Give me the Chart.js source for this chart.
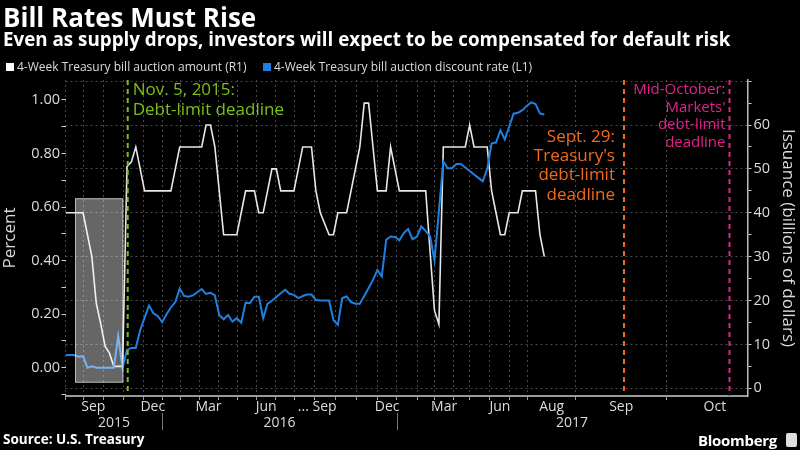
<!DOCTYPE html>
<html>
<head>
<meta charset="utf-8">
<script src="https://cdn.jsdelivr.net/npm/chart.js@4.4.1/dist/chart.umd.min.js"></script>
<style>
  html, body { margin: 0; padding: 0; background: #000; }
  #wrap { position: relative; width: 800px; height: 450px; overflow: hidden; background: #000;
          font-family: "Open Sans", sans-serif; }
  #c { position: absolute; left: 0; top: 0; }
  .t { position: absolute; white-space: nowrap; color: #fff; line-height: 1; }
  #title { left: 3px; top: 4px; font-size: 26px; font-weight: 700; }
  #sub { left: 3px; top: 30px; font-size: 18.8px; font-weight: 700; }
  .leg { top: 61px; font-size: 12px; color: #dcdcdc; }
  .sw { display: inline-block; width: 8px; height: 8px; margin-right: 3px; vertical-align: 0px; }
  #source { left: 3px; top: 433px; font-size: 13.5px; font-weight: 700; }
  #bbg { left: 698px; top: 433px; font-size: 15px; font-weight: 700; letter-spacing: -0.3px; }
  #icon { position: absolute; left: 786px; top: 433px; width: 11px; height: 14px; background: #ddd; border-radius: 2px; }
</style>
</head>
<body>
<div id="wrap">
  <canvas id="c" width="800" height="450"></canvas>
  <div class="t" id="title">Bill Rates Must Rise</div>
  <div class="t" id="sub">Even as supply drops, investors will expect to be compensated for default risk</div>
  <div class="t leg" style="left:6px"><span class="sw" style="background:#ffffff"></span>4-Week Treasury bill auction amount (R1)</div>
  <div class="t leg" style="left:263px"><span class="sw" style="background:#1f80e0"></span>4-Week Treasury bill auction discount rate (L1)</div>
  <div class="t" id="source">Source: U.S. Treasury</div>
  <div class="t" id="bbg">Bloomberg</div>
  <div id="icon"></div>
</div>
<script>
// ---------------- DATA ----------------
// Weekly 4-week bill auctions, Aug 2015 - Aug 2017 (observation index on the x axis)
const billAmount = [ // billions of dollars (R1)
  40,40,40,40,40, 35,30,19.4,14.8,9.6,8,5,5,5, 50.5,51.6,55,50,
  45,45,45,45,45,45,45, 50, 55,55,55,55,55,55, 60,60, 55,45,
  35,35,35,35, 40, 45,45,45, 40,40, 45,50,50,45, 45,45,45, 50,
  55,55,55, 45,40,37.5,35,35, 40,40,40, 45,50,55,65,65,55,
  45,45,45, 55,50, 45,45,45,45,45,45,45, 31,17.7,14.6,
  55,55,55,55,55,55, 60, 55,55,55,55, 45,40,35,35, 40,40,40,
  45,45,45,45, 35,30
];
const discountRate = [ // percent (L1)
  0.047,0.047,0.047,0.041,0.043,0.0,0.005,0.0,0.0,0.0,
  0.0,0.0,0.118,0.0,0.066,0.074,0.074,0.14,0.186,0.232,
  0.203,0.193,0.17,0.2,0.225,0.245,0.295,0.268,0.265,0.27,
  0.282,0.294,0.276,0.28,0.27,0.197,0.181,0.197,0.172,0.185,
  0.168,0.243,0.241,0.265,0.265,0.185,0.239,0.25,0.264,0.278,
  0.291,0.276,0.272,0.26,0.268,0.273,0.273,0.253,0.251,0.251,
  0.251,0.178,0.16,0.26,0.266,0.245,0.239,0.239,0.268,0.298,
  0.328,0.365,0.341,0.478,0.49,0.488,0.476,0.503,0.518,0.48,
  0.49,0.528,0.51,0.49,0.4,0.585,0.77,0.745,0.745,0.761,
  0.761,0.748,0.735,0.722,0.709,0.696,0.743,0.838,0.841,0.887,
  0.853,0.9,0.949,0.952,0.962,0.978,0.991,0.985,0.95,0.946
];
// Month boundaries on the x axis (in observation units) and the label of each month interval
const monthTicks = [0, 4.05, 8.60, 13.16, 17.71, 22.03, 26.29, 30.39, 34.72, 39.20, 43.52, 47.85,
  52.24, 56.57, 61.35, 66.29, 71.07, 75.39, 80.08, 84.11, 88.28, 92.08, 96.63, 101.18, 105.21,
  116.14, 136.85, 158.8];
const monthLabels = ['', 'Sep', '', '', 'Dec', '', '', 'Mar', '', '', 'Jun', '', '', '... Sep', '', '',
  'Dec', '', '', 'Mar', '', '', 'Jun', '', 'Aug', 'Sep', 'Oct'];
const yearLabels = ['2015', '2016', '2017'];
const yearStarts = [0, 22.03, 75.39];
const xMax = 155.25;
const leftTicks = [-0.1, 0, 0.1, 0.2, 0.3, 0.4, 0.5, 0.6, 0.7, 0.8, 0.9, 1.0];
const rightTicks = [0, 5, 10, 15, 20, 25, 30, 35, 40, 45, 50, 55, 60, 65, 70];
// Event markers
const deadlines = [
  { at: 14.16, color: '#7dbf1a', side: 'right', size: 17, lineGap: 19.3, firstY: 90.5,
    lines: ['Nov. 5, 2015:', 'Debt-limit deadline'] },
  { at: 127.13, color: '#f26a1b', side: 'left', size: 17, lineGap: 19.3, firstY: 137,
    lines: ['Sept. 29:', "Treasury's", 'debt-limit', 'deadline'] },
  { at: 151.15, color: '#e0238c', side: 'left', size: 15, lineGap: 17.6, firstY: 90,
    lines: ['Mid-October:', "Markets'", 'debt-limit', 'deadline'] }
];
const highlight = { x0: 2.16, x1: 13.16, y0: -0.056, y1: 0.633 };

// ---------------- STYLE ----------------
const TXT = '#dcdcdc';
const GRID = '#4a4a4a';
const FONT = '"Open Sans", sans-serif';
Chart.defaults.font.family = FONT;

const overlay = {
  id: 'overlay',
  afterDatasetsDraw(chart) {
    const { ctx, chartArea: a } = chart;
    const xs = chart.scales.x, yl = chart.scales.y;
    const bx0 = xs.getPixelForValue(highlight.x0), bx1 = xs.getPixelForValue(highlight.x1);
    const by0 = yl.getPixelForValue(highlight.y1), by1 = yl.getPixelForValue(highlight.y0);
    ctx.save();
    ctx.fillStyle = 'rgba(255,255,255,0.40)';
    ctx.fillRect(bx0, by0, bx1 - bx0, by1 - by0);
    ctx.strokeStyle = 'rgba(255,255,255,0.55)';
    ctx.lineWidth = 1;
    ctx.strokeRect(bx0 + 0.5, by0 + 0.5, bx1 - bx0 - 1, by1 - by0 - 1);
    deadlines.forEach(d => {
      const px = xs.getPixelForValue(d.at);
      ctx.strokeStyle = d.color;
      ctx.lineWidth = 2;
      ctx.setLineDash([5, 4]);
      ctx.beginPath(); ctx.moveTo(px, a.top); ctx.lineTo(px, a.bottom); ctx.stroke();
      ctx.setLineDash([]);
      ctx.fillStyle = d.color;
      ctx.font = d.size + 'px ' + FONT;
      ctx.textBaseline = 'middle';
      ctx.textAlign = d.side === 'right' ? 'left' : 'right';
      const tx = d.side === 'right' ? px + 5 : px - (d.size > 16 ? 9 : 4);
      d.lines.forEach((s, i) => ctx.fillText(s, tx, d.firstY + i * d.lineGap));
    });
    ctx.restore();
  },
  afterDraw(chart) {
    const { ctx } = chart;
    const xs = chart.scales.x;
    const top = xs.top;
    ctx.save();
    ctx.fillStyle = TXT;
    ctx.font = '14px ' + FONT;
    ctx.textBaseline = 'middle';
    ctx.textAlign = 'center';
    monthLabels.forEach((lab, k) => {
      if (!lab) return;
      const mid = (xs.getPixelForValue(monthTicks[k]) + xs.getPixelForValue(monthTicks[k + 1])) / 2;
      if (lab.startsWith('...')) {
        const pre = ctx.measureText('... ').width;
        ctx.fillText(lab, mid - pre / 2, top + 11);
      } else {
        ctx.fillText(lab, mid, top + 11);
      }
    });
    const ends = yearStarts.slice(1).concat([xMax]);
    yearLabels.forEach((y, i) => {
      const p0 = xs.getPixelForValue(yearStarts[i]), p1 = xs.getPixelForValue(ends[i]);
      ctx.fillText(y, (p0 + p1) / 2, top + 27);
      if (i > 0) {
        ctx.strokeStyle = '#777';
        ctx.lineWidth = 1;
        ctx.beginPath(); ctx.moveTo(Math.round(p0) + 0.5, top + 17); ctx.lineTo(Math.round(p0) + 0.5, top + 34); ctx.stroke();
      }
    });
    ctx.restore();
  }
};

new Chart(document.getElementById('c'), {
  type: 'line',
  data: {
    datasets: [
      { label: '4-Week Treasury bill auction discount rate (L1)', yAxisID: 'y',
        data: discountRate.map((v, i) => ({ x: i, y: v })),
        borderColor: '#1f80e0', borderWidth: 2, pointRadius: 0, tension: 0, fill: false },
      { label: '4-Week Treasury bill auction amount (R1)', yAxisID: 'y1',
        data: billAmount.map((v, i) => ({ x: i, y: v })),
        borderColor: '#e8e8e8', borderWidth: 1.6, pointRadius: 0, tension: 0, fill: false }
    ]
  },
  options: {
    responsive: false, animation: false, devicePixelRatio: 1,
    layout: { padding: { top: 80, left: 0, right: 0, bottom: 0 } },
    plugins: { legend: { display: false }, tooltip: { enabled: false }, title: { display: false } },
    scales: {
      x: {
        type: 'linear', position: 'bottom', min: 0, max: xMax,
        afterBuildTicks: s => { s.ticks = monthTicks.filter(v => v <= xMax).map(v => ({ value: v })); },
        ticks: { display: false },
        grid: { color: GRID, lineWidth: 1, tickLength: 4, tickColor: '#999' },
        border: { display: true, color: '#9a9a9a', width: 2, dash: [2, 3] },
        afterFit: s => { s.height = 54; }
      },
      y: {
        position: 'left', min: -0.1057, max: 1.0747,
        afterBuildTicks: s => { s.ticks = leftTicks.map(v => ({ value: v })); },
        ticks: {
          color: TXT, font: { size: 14.5 }, padding: 1.5, autoSkip: false,
          callback: v => (v >= 0 && Math.round(v * 10) % 2 === 0) ? v.toFixed(2) : ''
        },
        grid: { drawOnChartArea: false, tickLength: 4, tickColor: '#cfcfcf' },
        border: { display: false },
        title: { display: true, text: 'Percent', color: TXT, font: { size: 17 }, padding: 0 },
        afterFit: s => { s.width = 65.5; }
      },
      y1: {
        position: 'right', min: -1.755, max: 70.26,
        afterBuildTicks: s => { s.ticks = rightTicks.map(v => ({ value: v })); },
        ticks: {
          color: TXT, font: { size: 14.5 }, padding: 2, autoSkip: false,
          callback: v => (v % 10 === 0 && v <= 60) ? String(v) : ''
        },
        grid: {
          color: c => (c.tick && c.tick.value % 10 === 0) ? GRID : 'rgba(0,0,0,0)',
          lineWidth: 1, tickLength: 4, tickColor: '#cfcfcf'
        },
        border: { display: true, color: '#bdbdbd', width: 1.5, dash: [2, 3] },
        title: { display: true, text: 'Issuance (billions of dollars)', color: TXT, font: { size: 17 }, padding: 2 },
        afterFit: s => { s.width = 800 - 747.5; }
      }
    }
  },
  plugins: [overlay]
});
</script>
</body>
</html>
